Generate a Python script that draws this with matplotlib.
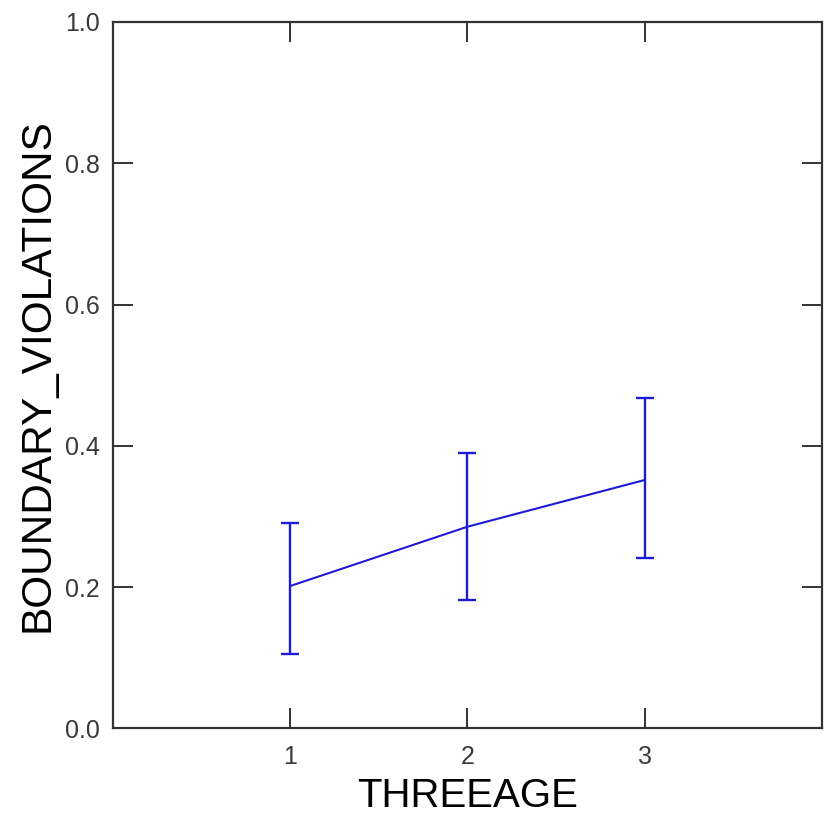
import matplotlib
matplotlib.use("Agg")
import matplotlib.pyplot as plt

# values
threeage = [1, 2, 3]
means = [0.2015, 0.2854, 0.3515]
upper = [0.291, 0.390, 0.467]
lower = [0.105, 0.181, 0.241]

err_lo = [m - l for m, l in zip(means, lower)]
err_hi = [u - m for m, u in zip(means, upper)]

plt.rcParams['font.family'] = ['Liberation Sans', 'DejaVu Sans']

fig = plt.figure(figsize=(8.25, 8.14), dpi=100)
ax = fig.add_axes([0.1373, 0.1053, 0.996 - 0.1373, 0.973 - 0.1053])

blue = "#1c1cd6"
ax.errorbar(threeage, means, yerr=[err_lo, err_hi], color=blue, lw=1.5,
            elinewidth=1.7, capsize=6.8, capthick=1.7)

ax.set_xlim(0, 4)
ax.set_ylim(0, 1)
ax.set_xticks(threeage)
ax.set_yticks([0.0, 0.2, 0.4, 0.6, 0.8, 1.0])
ax.set_yticklabels(["0.0", "0.2", "0.4", "0.6", "0.8", "1.0"])

ax.tick_params(direction="in", length=14.4, width=1.4, color="#333333",
               top=True, right=True, labelsize=18, labelcolor="#3a3a3a")
ax.tick_params(axis="y", pad=10)
ax.tick_params(axis="x", pad=12)

for s in ax.spines.values():
    s.set_linewidth(1.6)
    s.set_color("#333333")

ax.set_xlabel("THREEAGE", fontsize=29, labelpad=6)
ax.set_ylabel("BOUNDARY_VIOLATIONS", fontsize=30.5, labelpad=5)

fig.savefig("out.png", dpi=100)
